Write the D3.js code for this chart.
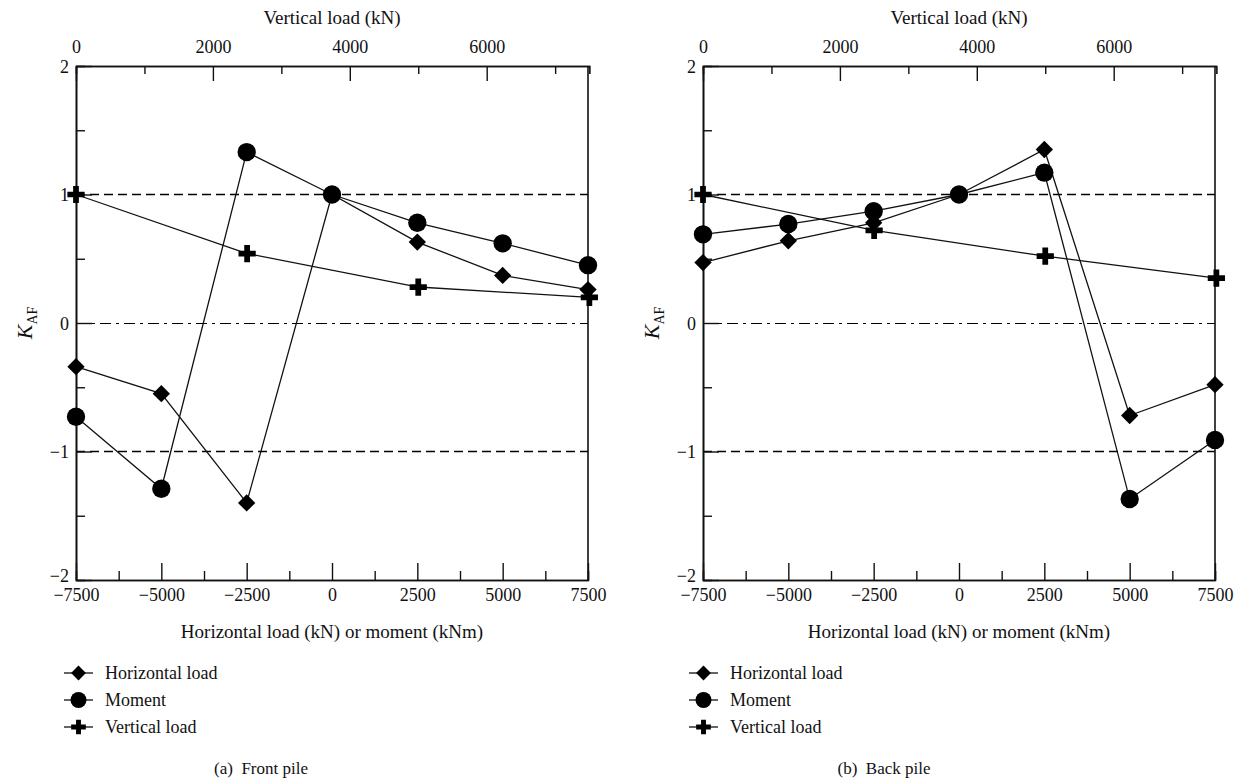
<!DOCTYPE html>
<html>
<head>
<meta charset="utf-8">
<script src="https://cdn.jsdelivr.net/npm/d3@7"></script>
<style>
  body { margin: 0; background: #fff; }
</style>
</head>
<body>
<div id="chart"></div>
<script>
// x positions (kN or kNm) for horizontal load and moment
const hPos = [-7500, -5000, -2500, 0, 2500, 5000, 7500];
// x positions on the top axis (vertical load, kN)
const vPos = [0, 2500, 5000, 7500];

// (a) front pile
const frontHorizontal = [-0.34, -0.55, -1.40, 1.0, 0.63, 0.37, 0.26];
const frontMoment = [-0.73, -1.29, 1.33, 1.0, 0.78, 0.62, 0.45];
const frontVertical = [1.0, 0.54, 0.28, 0.20];

// (b) back pile
const backHorizontal = [0.47, 0.64, 0.78, 1.0, 1.35, -0.72, -0.48];
const backMoment = [0.69, 0.77, 0.87, 1.0, 1.17, -1.37, -0.91];
const backVertical = [1.0, 0.72, 0.52, 0.35];

const bottomTicks = [-7500, -5000, -2500, 0, 2500, 5000, 7500];
const topTicks = [0, 2000, 4000, 6000];
const yTicks = [-2, -1, 0, 1, 2];
const seriesNames = ["Horizontal load", "Moment", "Vertical load"];

const FONT = "'Liberation Serif', 'Times New Roman', 'DejaVu Serif', serif";
const W = 1247, H = 782;
const svg = d3.select("#chart").append("svg")
  .attr("width", W).attr("height", H)
  .attr("font-family", FONT);

const symDiamond = d3.symbol().type(d3.symbolSquare).size(150);
const symCircle = d3.symbol().type(d3.symbolCircle).size(265);
const symPlus = d3.symbol().type(d3.symbolCross).size(165);

const fmt = d => d < 0 ? "\u2212" + Math.abs(d) : String(d);

function panel(left, hz, mo, ve, legendX, captionX, caption) {
  const top = 66, width = 512, height = 514;
  const g = svg.append("g").attr("transform", `translate(${left},${top})`);

  const x = d3.scaleLinear().domain([-7500, 7500]).range([0, width]);
  const xTop = d3.scaleLinear().domain([0, 7500]).range([0, width * 7500 / 7480]);
  const y = d3.scaleLinear().domain([-2, 2]).range([height, 0]);

  // reference lines
  [1, -1].forEach(v => {
    g.append("line").attr("x1", 0).attr("x2", width)
      .attr("y1", y(v)).attr("y2", y(v))
      .attr("stroke", "#000").attr("stroke-width", 1.4)
      .attr("stroke-dasharray", "9,5");
  });
  g.append("line").attr("x1", 0).attr("x2", width)
    .attr("y1", y(0) + 0.5).attr("y2", y(0) + 0.5)
    .attr("stroke", "#000").attr("stroke-width", 1.2)
    .attr("stroke-dasharray", "11,5,3,5");

  // axes: minor ticks first, then major ticks with labels
  const styleAxis = sel => {
    sel.attr("font-family", FONT);
    sel.select(".domain").attr("stroke", "#111").attr("stroke-width", 1.6);
    sel.selectAll(".tick line").attr("stroke", "#111").attr("stroke-width", 1.4);
    sel.selectAll("text").attr("fill", "#111").style("font-size", "18px");
  };

  g.append("g").attr("transform", `translate(0,${height})`)
    .call(d3.axisBottom(x).tickValues(d3.range(-6250, 7500, 2500)).tickSize(-9).tickFormat(""))
    .call(styleAxis);
  g.append("g").attr("transform", `translate(0,${height})`)
    .call(d3.axisBottom(x).tickValues(bottomTicks).tickSize(-17).tickSizeOuter(0).tickPadding(6).tickFormat(fmt))
    .call(styleAxis)
    .selectAll("text").attr("dy", "0.85em");

  g.append("g")
    .call(d3.axisTop(xTop).tickValues([1000, 3000, 5000, 7000]).tickSize(-8).tickFormat(""))
    .call(styleAxis);
  g.append("g")
    .call(d3.axisTop(xTop).tickValues(topTicks).tickSize(-15).tickSizeOuter(0).tickPadding(13).tickFormat(d => d))
    .call(styleAxis);

  g.append("g")
    .call(d3.axisLeft(y).tickValues([-1.5, -0.5, 0.5, 1.5]).tickSize(-9).tickFormat(""))
    .call(styleAxis);
  g.append("g")
    .call(d3.axisLeft(y).tickValues(yTicks).tickSize(-16).tickSizeOuter(0).tickPadding(7).tickFormat(fmt))
    .call(styleAxis)
    .selectAll("text").attr("dy", d => d === -2 ? "0.1em" : "0.35em");

  g.append("line").attr("x1", width).attr("x2", width).attr("y1", 0).attr("y2", height)
    .attr("stroke", "#111").attr("stroke-width", 1.6);

  // axis titles
  g.append("text").attr("x", width / 2).attr("y", -42)
    .attr("text-anchor", "middle").attr("fill", "#111").style("font-size", "19px")
    .text("Vertical load (kN)");
  g.append("text").attr("x", width / 2).attr("y", height + 58)
    .attr("text-anchor", "middle").attr("fill", "#111").style("font-size", "19px")
    .text("Horizontal load (kN) or moment (kNm)");
  const yl = g.append("text")
    .attr("transform", `translate(-44,${y(0)}) rotate(-90)`)
    .attr("text-anchor", "middle").attr("fill", "#111").style("font-size", "22px");
  yl.append("tspan").attr("font-style", "italic").text("K");
  yl.append("tspan").attr("dy", 5).style("font-size", "14px").text("AF");

  // series
  const line = d3.line().x(d => d[0]).y(d => d[1]);
  const series = [
    {pts: hPos.map((p, i) => [x(p), y(hz[i])]), sym: symDiamond, rot: 45},
    {pts: hPos.map((p, i) => [x(p), y(mo[i])]), sym: symCircle, rot: 0},
    {pts: vPos.map((p, i) => [xTop(p), y(ve[i])]), sym: symPlus, rot: 0}
  ];
  series.forEach(s => {
    g.append("path").attr("d", line(s.pts))
      .attr("fill", "none").attr("stroke", "#111").attr("stroke-width", 1.3);
    g.selectAll(null).data(s.pts).join("path")
      .attr("d", s.sym())
      .attr("transform", d => `translate(${d[0]},${d[1]}) rotate(${s.rot})`)
      .attr("fill", "#000");
  });

  // legend
  const leg = svg.append("g").attr("transform", `translate(${legendX},0)`);
  const legY = [673, 700, 727];
  const legSym = [
    {sym: d3.symbol().type(d3.symbolSquare).size(110), rot: 45},
    {sym: d3.symbol().type(d3.symbolCircle).size(200), rot: 0},
    {sym: d3.symbol().type(d3.symbolCross).size(120), rot: 0}
  ];
  seriesNames.forEach((name, i) => {
    leg.append("line").attr("x1", 0).attr("x2", 29)
      .attr("y1", legY[i]).attr("y2", legY[i])
      .attr("stroke", "#111").attr("stroke-width", 1.3);
    leg.append("path").attr("d", legSym[i].sym())
      .attr("transform", `translate(14.5,${legY[i]}) rotate(${legSym[i].rot})`)
      .attr("fill", "#000");
    leg.append("text").attr("x", 41).attr("y", legY[i]).attr("dy", "0.35em")
      .attr("fill", "#111").style("font-size", "18px").text(name);
  });

  svg.append("text").attr("x", captionX).attr("y", 768).attr("dy", "0.35em")
    .attr("text-anchor", "middle").attr("fill", "#111").style("font-size", "17px")
    .text(caption);
}

panel(76, frontHorizontal, frontMoment, frontVertical, 64, 261, "(a)\u2002Front pile");
panel(703, backHorizontal, backMoment, backVertical, 689, 884, "(b)\u2002Back pile");
</script>
</body>
</html>
